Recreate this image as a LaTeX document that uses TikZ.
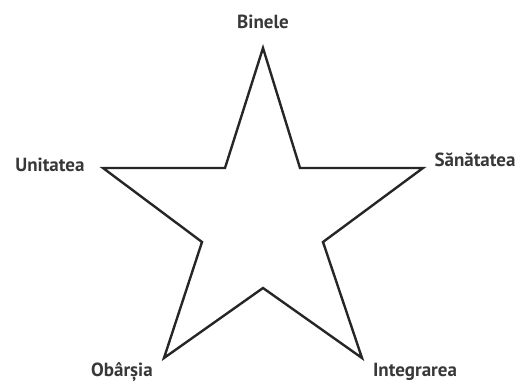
\documentclass[tikz,border=0pt]{standalone}
\usepackage{fontspec}
\setmainfont{PT Sans}
\begin{document}
\begin{tikzpicture}[x=1pt, y=-1pt, line width=2.4pt, line join=miter,
    lbl/.style={font=\fontsize{19}{21}\selectfont\bfseries, text=black!78}]
  \useasboundingbox (0,0) rectangle (520,382);
  \coordinate (T) at (263,48);
  \coordinate (TR) at (300,168);
  \coordinate (R) at (423,168);
  \coordinate (RI) at (323,242);
  \coordinate (BR) at (362,358);
  \coordinate (BI) at (263,288);
  \coordinate (BL) at (164,358);
  \coordinate (LI) at (202,242);
  \coordinate (L) at (103,168);
  \coordinate (TL) at (225,168);
  \draw[black!85] (T) -- (TR) -- (R) -- (RI) -- (BR) -- (BI) -- (BL) -- (LI) -- (L) -- (TL) -- cycle;
  \node[lbl] (binele) at (263,22) {Binele};
  \node[lbl] (unitatea) at (50,165) {Unitatea};
  \node[lbl] (sanatatea) at (475,160) {Sănătatea};
  \node[lbl] (obarsia) at (122,372) {Obârșia};
  \node[lbl] (integrarea) at (415,372) {Integrarea};
\end{tikzpicture}
\end{document}
